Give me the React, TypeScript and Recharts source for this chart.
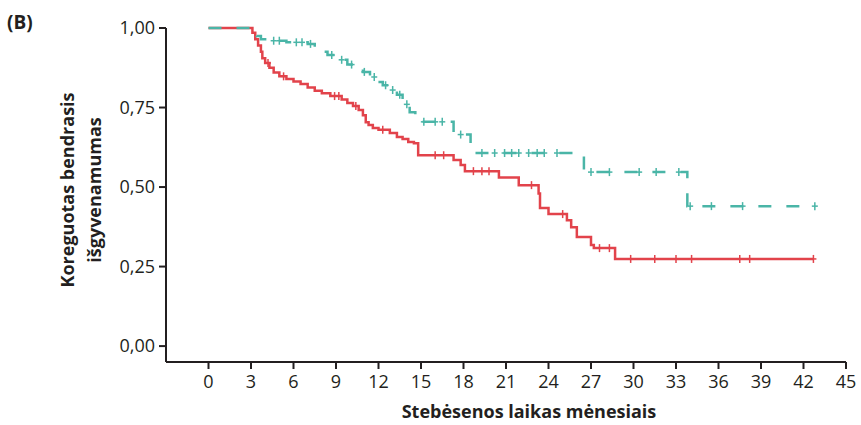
import React from "react";
import { ComposedChart, Line, XAxis, YAxis, Label } from "recharts";

// Kaplan-Meier steps (months, survival)
const redTimes = [0, 3.1, 3.3, 3.5, 3.7, 3.8, 4.0, 4.3, 4.6, 5.0, 5.5, 6.0, 6.5, 7.0, 7.5, 8.0, 8.6, 9.4, 9.8, 10.2, 10.6, 10.9, 11.1, 11.3, 11.6, 12.0, 12.8, 13.3, 13.7, 14.1, 14.5, 14.8, 17.3, 17.8, 18.1, 20.5, 21.9, 23.3, 23.4, 24.0, 25.3, 25.6, 26.0, 27.0, 27.2, 28.7];
const redSurv = [1.0, 0.985, 0.965, 0.945, 0.925, 0.905, 0.89, 0.875, 0.86, 0.848, 0.84, 0.832, 0.824, 0.813, 0.803, 0.795, 0.786, 0.775, 0.764, 0.755, 0.742, 0.726, 0.704, 0.695, 0.686, 0.68, 0.67, 0.657, 0.651, 0.642, 0.638, 0.6, 0.585, 0.569, 0.55, 0.53, 0.506, 0.48, 0.434, 0.415, 0.396, 0.374, 0.343, 0.318, 0.308, 0.274];
const redCensored = [4.2, 5.3, 8.9, 9.2, 10.4, 12.3, 16.0, 16.6, 18.7, 19.3, 19.8, 22.8, 25.0, 27.6, 28.3, 29.8, 31.5, 33.0, 34.1, 37.5, 38.2, 42.7];

const tealTimes = [0, 3.2, 3.4, 3.7, 4.2, 5.5, 7.0, 7.5, 7.7, 8.0, 8.4, 9.1, 9.8, 10.5, 10.9, 11.4, 11.9, 12.3, 12.8, 13.3, 13.7, 14.2, 14.6, 14.8, 17.3, 18.5, 18.8, 26.5, 33.8];
const tealSurv = [1.0, 0.99, 0.975, 0.965, 0.96, 0.955, 0.95, 0.945, 0.935, 0.925, 0.915, 0.9, 0.885, 0.877, 0.862, 0.846, 0.83, 0.82, 0.805, 0.79, 0.76, 0.735, 0.715, 0.705, 0.665, 0.625, 0.607, 0.547, 0.44];
const tealCensored = [4.6, 5.0, 6.2, 6.6, 7.2, 8.7, 9.4, 10.1, 11.0, 11.7, 12.5, 13.0, 13.5, 14.0, 15.2, 16.0, 16.5, 17.8, 19.3, 20.2, 20.9, 21.4, 21.9, 22.6, 23.2, 23.7, 24.6, 27.0, 28.3, 30.4, 31.6, 33.2, 34.0, 35.5, 37.7, 42.8];

const xTicks = [0, 3, 6, 9, 12, 15, 18, 21, 24, 27, 30, 33, 36, 39, 42, 45];
const yTicks = [0, 0.25, 0.5, 0.75, 1];

const RED = "#e2434b";
const TEAL = "#4ab5a7";
const INK = "#231f20";
const FONT = "'Open Sans', sans-serif";

type Pt = { t: number; s: number; c: boolean };

// merge step events and censor marks; censor sits on the current step level
function buildCurve(times: number[], surv: number[], censored: number[]): Pt[] {
  const pts: Pt[] = times.map((t, i) => ({ t, s: surv[i], c: false }));
  censored.forEach((ct) => {
    let idx = 0;
    times.forEach((t, i) => {
      if (t <= ct) idx = i;
    });
    pts.push({ t: ct, s: surv[idx], c: true });
  });
  return pts.sort((a, b) => a.t - b.t || Number(a.c) - Number(b.c));
}

const redData = buildCurve(redTimes, redSurv, redCensored);
const tealData = buildCurve(tealTimes, tealSurv, tealCensored);

const censorDot = (color: string) => (props: any) => {
  const { cx, cy, payload, index } = props;
  if (!payload?.c) return <g key={`n-${index}`} />;
  return (
    <g key={`c-${index}`} stroke={color} strokeWidth={1.5} strokeDasharray="none">
      <line x1={cx} y1={cy - 4} x2={cx} y2={cy + 4} />
      <line x1={cx - 3} y1={cy} x2={cx + 3} y2={cy} />
    </g>
  );
};

const YTitle = (props: any) => {
  const { viewBox } = props;
  const cy = viewBox.y + viewBox.height / 2 - 5;
  const x1 = viewBox.x - 32;
  const x2 = viewBox.x - 5;
  return (
    <g fontFamily={FONT} fontWeight={700} fontSize={18} fill={INK}>
      <text x={7} y={29} fontSize={19}>(B)</text>
      <text x={x1} y={cy} textAnchor="middle" transform={`rotate(-90 ${x1} ${cy})`}>
        Koreguotas bendrasis
      </text>
      <text x={x2} y={cy} textAnchor="middle" transform={`rotate(-90 ${x2} ${cy})`}>
        išgyvenamumas
      </text>
    </g>
  );
};

const XTitle = (props: any) => {
  const { viewBox } = props;
  const cx = viewBox.x + viewBox.width / 2 + 23;
  return (
    <text x={cx} y={418} textAnchor="middle" fontFamily={FONT} fontWeight={700} fontSize={18} fill={INK}>
      Stebėsenos laikas mėnesiais
    </text>
  );
};

export default function App() {
  return (
    <div style={{ position: "absolute", left: 0, top: 0, width: 861, height: 425, background: "#fff" }}>
      <ComposedChart width={861} height={425} margin={{ top: 28, right: 15, bottom: 23, left: 106 }}>
        <XAxis
          dataKey="t"
          type="number"
          domain={[-3, 45]}
          ticks={xTicks}
          interval={0}
          height={40}
          stroke={INK}
          strokeWidth={2}
          tickSize={7}
          tickMargin={6}
          tick={{ fill: INK, fontSize: 18, fontFamily: FONT }}
        >
          <Label content={<XTitle />} />
        </XAxis>
        <YAxis
          type="number"
          domain={[-0.05, 1]}
          ticks={yTicks}
          interval={0}
          width={60}
          stroke={INK}
          strokeWidth={2}
          tickSize={7}
          tickMargin={4}
          tickFormatter={(v: number) => v.toFixed(2).replace(".", ",")}
          tick={{ fill: INK, fontSize: 18, fontFamily: FONT }}
        >
          <Label content={<YTitle />} />
        </YAxis>
        <Line
          data={redData}
          dataKey="s"
          type="stepAfter"
          stroke={RED}
          strokeWidth={2.5}
          dot={censorDot(RED)}
          activeDot={false}
          isAnimationActive={false}
        />
        <Line
          data={tealData}
          dataKey="s"
          type="stepAfter"
          stroke={TEAL}
          strokeWidth={2.5}
          strokeDasharray="13 15"
          dot={censorDot(TEAL)}
          activeDot={false}
          isAnimationActive={false}
        />
      </ComposedChart>
    </div>
  );
}
